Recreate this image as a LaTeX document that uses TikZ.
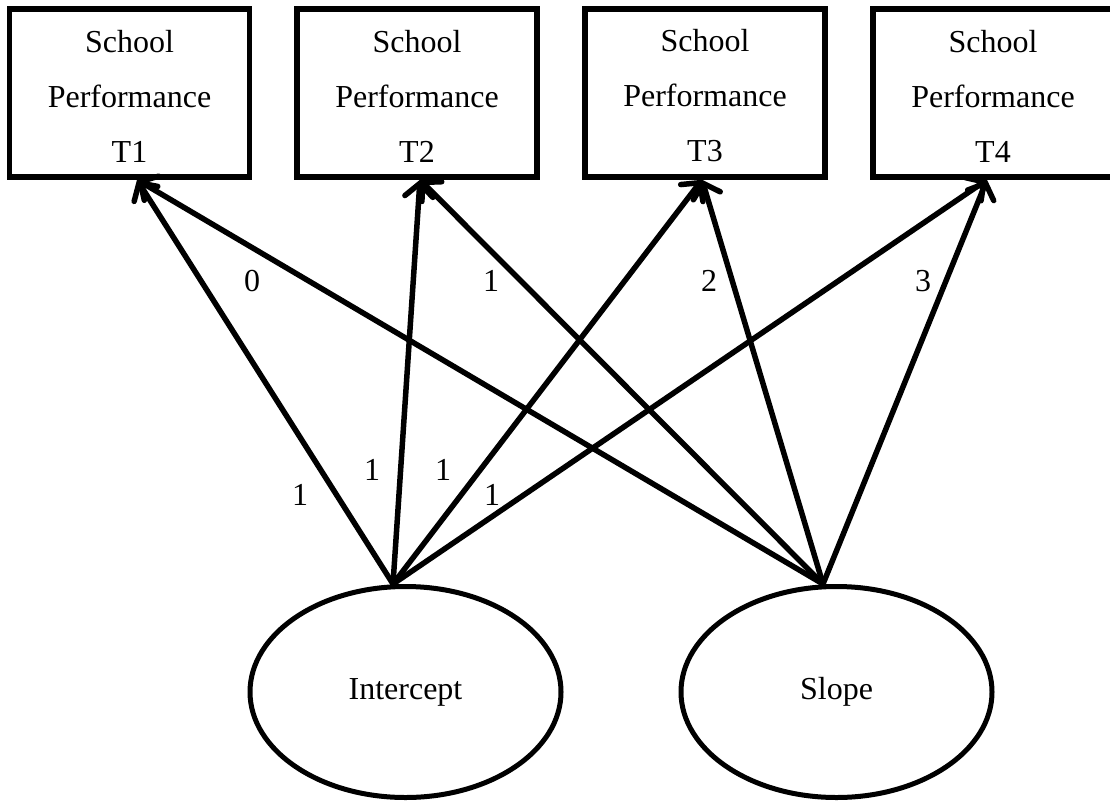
\documentclass[tikz,border=0pt]{standalone}
\usepackage{fontspec}
\setmainfont{Liberation Serif}
\usetikzlibrary{shapes.geometric,arrows.meta,calc}
\begin{document}
\begin{tikzpicture}[x=1pt,y=-1pt,
  every node/.style={font=\fontsize{32}{55}\selectfont, inner sep=0pt},
  spbox/.style={draw, line width=5.5pt, minimum width=240pt, minimum height=168pt, align=center},
  latent/.style={draw, ellipse, line width=5pt, minimum width=311pt, minimum height=211pt},
  loading/.style={line width=5.5pt, line cap=round, -{Straight Barb[length=13pt,width=28pt,line cap=round]}},
  coef/.style={}]
\useasboundingbox (0,0) rectangle (1110,803);

% observed variables
\node[spbox] (t1) at (129.5,93) {\rule{0pt}{28pt}School\\Performance\\T1};
\node[spbox] (t2) at (417,93) {\rule{0pt}{28pt}School\\Performance\\T2};
\node[spbox] (t3) at (705,93) {\rule{0pt}{28pt}School\\Performance\\T3};
\node[spbox] (t4) at (993,93) {\rule{0pt}{28pt}School\\Performance\\T4};

% latent variables
\node[latent] (int) at (405.5,692) {Intercept};
\node[latent] (slp) at (836.5,692) {Slope};

% connector end points
\coordinate (si) at ($(int.north)+(-12.5,0)$);
\coordinate (ss) at ($(slp.north)+(-13.5,0)$);
\coordinate (e1) at ($(t1.south)+(7.5,0)$);
\coordinate (e2) at ($(t2.south)+(3,0)$);
\coordinate (e3) at ($(t3.south)+(-3,0)$);
\coordinate (e4) at ($(t4.south)+(-6,0)$);

% loadings
\draw[loading] (si) -- (e1);
\draw[loading] (si) -- (e2);
\draw[loading] (si) -- (e3);
\draw[loading] (si) -- (e4);
\draw[loading] (ss) -- (e1);
\draw[loading] (ss) -- (e2);
\draw[loading] (ss) -- (e3);
\draw[loading] (ss) -- (e4);

% coefficient labels
\node[coef] (l1) at (300,495) {1};
\node[coef] (l2) at (372,470) {1};
\node[coef] (l3) at (443,470) {1};
\node[coef] (l4) at (492,495) {1};
\node[coef] (s0) at (252,281) {0};
\node[coef] (s1) at (491,281) {1};
\node[coef] (s2) at (709,281) {2};
\node[coef] (s3) at (923,281) {3};
\end{tikzpicture}
\end{document}
